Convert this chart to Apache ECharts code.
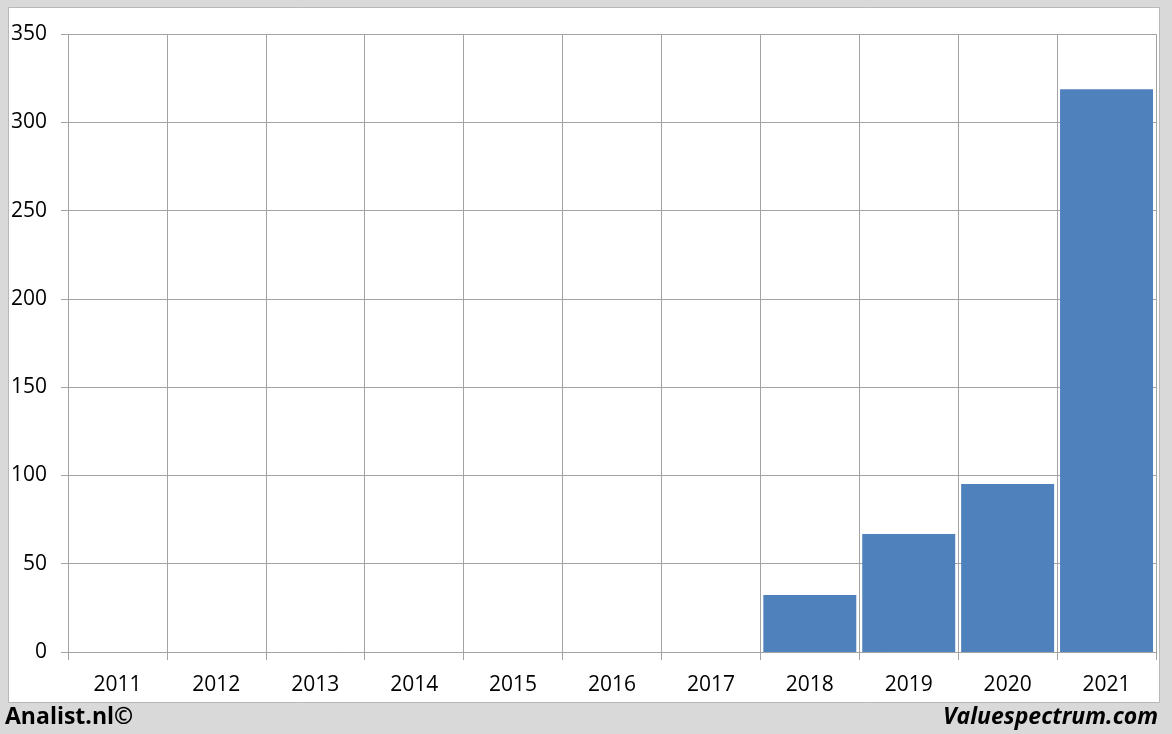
<!DOCTYPE html>
<html>
<head>
<meta charset="utf-8">
<script src="https://cdn.jsdelivr.net/npm/echarts@6/dist/echarts.min.js"></script>
<style>
html,body{margin:0;padding:0;background:#d9d9d9;}
#c{width:1172px;height:734px;}
</style>
</head>
<body>
<div id="c"></div>
<script>
const categories = ['2011','2012','2013','2014','2015','2016','2017','2018','2019','2020','2021'];
const values = [null, null, null, null, null, null, null, 32.3, 66.8, 95.1, 318.7];
const yMin = 0, yMax = 350, yInterval = 50;
const footerLeft = 'Analist.nl©';
const footerRight = 'Valuespectrum.com';

const chart = echarts.init(document.getElementById('c'), null, {renderer:'canvas'});
const gridColor = '#a3a3a3';
const labelFont = '"Open Sans", "Liberation Sans", sans-serif';
chart.setOption({
  backgroundColor: '#d9d9d9',
  animation: false,
  graphic: [
    {type:'rect', shape:{x:8.5,y:7.5,width:1151,height:695}, style:{fill:'#ffffff', stroke:'#b8b8b8', lineWidth:1}, z:-10},
    {type:'text', left:5, top:706, style:{text:footerLeft, font:'bold 23px ' + labelFont, fill:'#000'}},
    {type:'text', right:14, top:706, style:{text:footerRight, font:'italic bold 23px ' + labelFont, fill:'#000', textAlign:'right'}}
  ],
  grid: {left:68, right:16, top:34, bottom:82, containLabel:false},
  xAxis: {
    type:'category', data:categories, boundaryGap:true,
    axisLine:{show:true, lineStyle:{color:gridColor, width:1}},
    axisTick:{show:true, length:8, lineStyle:{color:gridColor}},
    axisLabel:{color:'#000', fontSize:21, fontFamily:labelFont, margin:23},
    splitLine:{show:true, lineStyle:{color:gridColor, width:1}}
  },
  yAxis: {
    type:'value', min:yMin, max:yMax, interval:yInterval,
    axisLine:{show:false},
    axisTick:{show:true, length:7, lineStyle:{color:gridColor}},
    axisLabel:{color:'#000', fontSize:21, fontFamily:labelFont, margin:21},
    splitLine:{show:true, lineStyle:{color:gridColor, width:1}}
  },
  series: [{
    type:'bar', data:values, barCategoryGap:'6%',
    itemStyle:{color:'#4f81bd'}
  }]
});
</script>
</body>
</html>
